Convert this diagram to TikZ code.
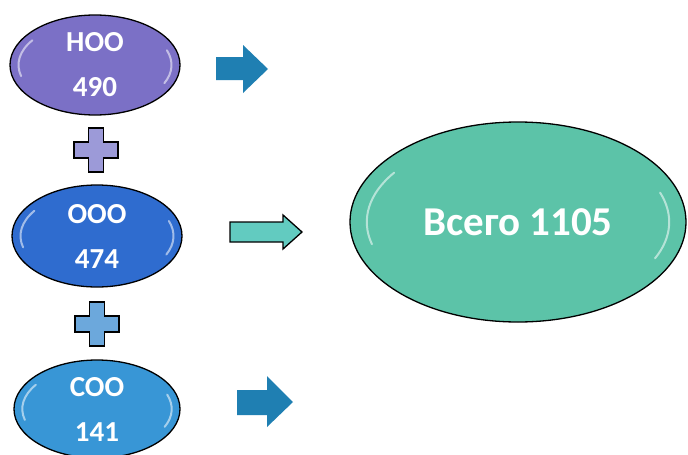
\documentclass[tikz,border=0pt]{standalone}
\usepackage{fontspec}
\setmainfont{Carlito}
\usetikzlibrary{shapes.geometric,calc}
\definecolor{cHoo}{HTML}{7B70C6}
\definecolor{cOoo}{HTML}{2F6CCF}
\definecolor{cCoo}{HTML}{3896D6}
\definecolor{cAll}{HTML}{5CC3A8}
\definecolor{cArrow}{HTML}{1F7FB2}
\definecolor{cArrowB}{HTML}{62CBC0}
\definecolor{cPlusA}{HTML}{9C9AD8}
\definecolor{cPlusB}{HTML}{6CA8DC}
\tikzset{
  oval/.style={ellipse, draw=black, line width=1.3pt, text=white,
    font=\bfseries\fontsize{29}{45}\selectfont, align=center, inner sep=0pt},
  glint/.style={white, opacity=0.55, line width=2pt, line cap=round},
  blockarrow/.style={fill=cArrow},
  plussign/.pic={
    \path[draw=black, line width=1.6pt, fill=#1]
      (-7.5,-22) -- (7.5,-22) -- (7.5,-8) -- (22,-8) -- (22,8) -- (7.5,8)
      -- (7.5,22) -- (-7.5,22) -- (-7.5,8) -- (-22,8) -- (-22,-8) -- (-7.5,-8) -- cycle;
  }
}
\begin{document}
\begin{tikzpicture}[x=1pt, y=-1pt]
\useasboundingbox (0,0) rectangle (688,455);
\fill[white] (0,0) rectangle (688,455);

% small ovals
\node[oval, fill=cHoo, minimum width=170pt, minimum height=100pt] (hoo) at (95,65) {HOO\\490};
\node[oval, fill=cOoo, minimum width=170pt, minimum height=102pt] (ooo) at (97,236) {OOO\\474};
\node[oval, fill=cCoo, minimum width=166pt, minimum height=98pt] (coo) at (97,409) {COO\\141};

% big oval
\node[oval, fill=cAll, minimum width=336pt, minimum height=200pt,
      font=\bfseries\fontsize{41}{45}\selectfont] (all) at (518,222) {Всего 1105};

% glints
\foreach \c/\rx/\ry in {hoo/85/50, ooo/85/51, coo/83/49, all/168/100} {
  \draw[glint] ($(\c)+({0.9*\rx*cos(165)},{0.86*\ry*sin(165)})$) arc[start angle=165, end angle=215, x radius=0.9*\rx, y radius=0.86*\ry];
  \draw[glint] ($(\c)+({0.9*\rx*cos(-20)},{0.86*\ry*sin(-20)})$) arc[start angle=-20, end angle=25, x radius=0.9*\rx, y radius=0.86*\ry];
}

% plus signs
\pic at (96,150) {plussign=cPlusA};
\pic at (97,324) {plussign=cPlusB};

% arrows
\fill[blockarrow] (216,57) -- (243,57) -- (243,45) -- (268,69) -- (243,93) -- (243,80) -- (216,80) -- cycle;
\draw[fill=cArrowB, draw=black, line width=1.3pt] (230,222) -- (283,222) -- (283,215) -- (302,232) -- (283,249) -- (283,242) -- (230,242) -- cycle;
\fill[blockarrow] (237,390) -- (267,390) -- (267,376) -- (293,402) -- (267,427) -- (267,415) -- (237,415) -- cycle;
\end{tikzpicture}
\end{document}
